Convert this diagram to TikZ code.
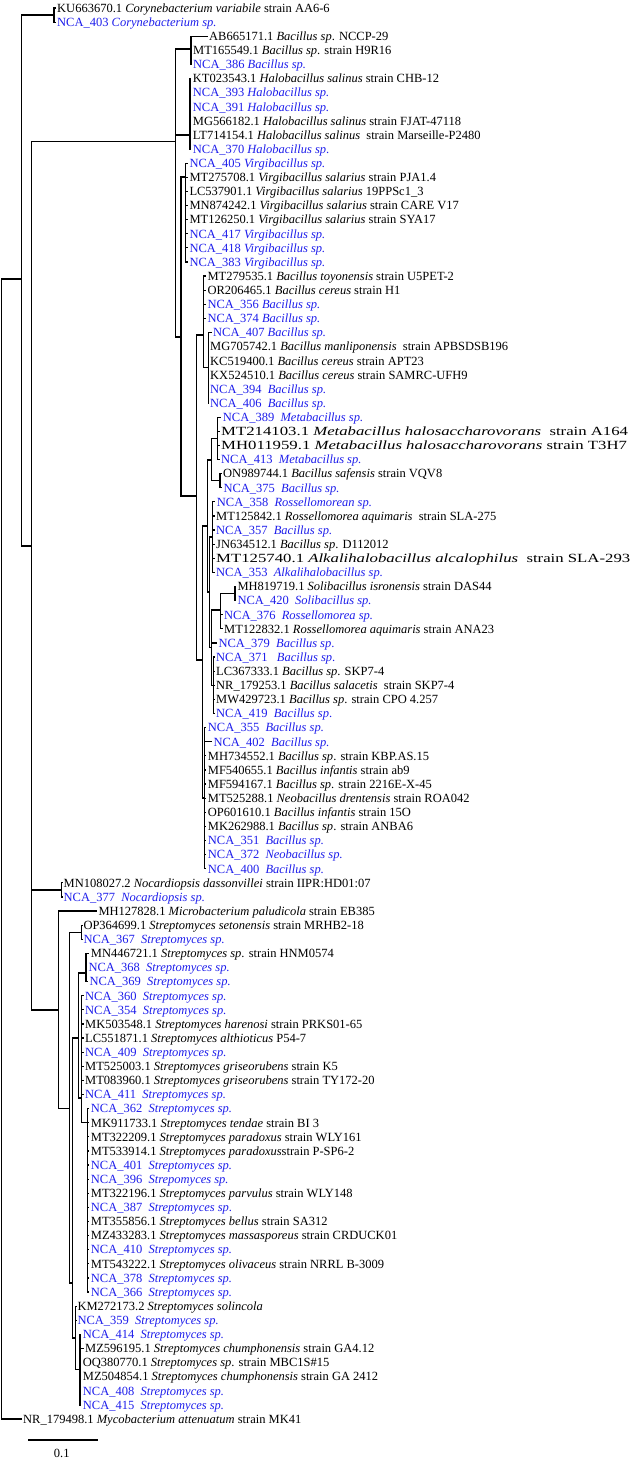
\documentclass[tikz,border=0pt]{standalone}
\usepackage{graphicx}
\usepackage{fontspec}
\setmainfont{Liberation Serif}
\definecolor{ncablue}{RGB}{30,30,235}
\tikzset{
  leaf/.style={anchor=west, inner xsep=1.5pt, inner ysep=0pt, text height=10pt, text depth=1.4pt, font=\fontsize{12.5}{14}\selectfont},
  nca/.style={leaf, text=ncablue},
  br/.style={line width=1.2pt},
  scalelbl/.style={anchor=center, inner sep=0pt, font=\fontsize{12.5}{14}\selectfont}
}
\newcommand\leafnode[5]{\node[#1] (#2) at ({#4-1.5},{8+(#3-1)*14.11}) {#5};}
\newcommand\linkto[2]{\draw[br] (#1) |- (#2.west);}
\newcommand\joinnodes[2]{\draw[br] (#1) |- (#2);}
\newcommand\widetext[1]{\scalebox{1.34}[1]{#1}}
\begin{document}
\begin{tikzpicture}[x=1pt,y=-1pt]
\path[use as bounding box] (0,0) rectangle (633,1459);
% ---------------- leaves ----------------
\leafnode{leaf}{l1}{1}{57}{KU663670.1 \textit{Corynebacterium variabile} strain AA6-6}
\leafnode{nca}{l2}{2}{57}{NCA\_403 \textit{Corynebacterium sp.}}
\leafnode{leaf}{l3}{3}{209}{AB665171.1 \textit{Bacillus sp}. NCCP-29}
\leafnode{leaf}{l4}{4}{193}{MT165549.1 \textit{Bacillus sp}. strain H9R16}
\leafnode{nca}{l5}{5}{193}{NCA\_386 \textit{Bacillus sp.}}
\leafnode{leaf}{l6}{6}{192.7}{KT023543.1 \textit{Halobacillus salinus} strain CHB-12}
\leafnode{nca}{l7}{7}{192.7}{NCA\_393 \textit{Halobacillus sp.}}
\leafnode{nca}{l8}{8}{192.7}{NCA\_391 \textit{Halobacillus sp.}}
\leafnode{leaf}{l9}{9}{192.7}{MG566182.1 \textit{Halobacillus salinus} strain FJAT-47118}
\leafnode{leaf}{l10}{10}{192.7}{LT714154.1 \textit{Halobacillus salinus}\ \ strain Marseille-P2480}
\leafnode{nca}{l11}{11}{192.7}{NCA\_370 \textit{Halobacillus sp}.}
\leafnode{nca}{l12}{12}{189.3}{NCA\_405 \textit{Virgibacillus sp.}}
\leafnode{leaf}{l13}{13}{189.3}{MT275708.1 \textit{Virgibacillus salarius} strain PJA1.4}
\leafnode{leaf}{l14}{14}{189.3}{LC537901.1 \textit{Virgibacillus salarius} 19PPSc1\_3}
\leafnode{leaf}{l15}{15}{189.3}{MN874242.1 \textit{Virgibacillus salarius} strain CARE V17}
\leafnode{leaf}{l16}{16}{189.3}{MT126250.1 \textit{Virgibacillus salarius} strain SYA17}
\leafnode{nca}{l17}{17}{189.3}{NCA\_417 \textit{Virgibacillus sp.}}
\leafnode{nca}{l18}{18}{189.3}{NCA\_418 \textit{Virgibacillus sp.}}
\leafnode{nca}{l19}{19}{189.3}{NCA\_383 \textit{Virgibacillus sp.}}
\leafnode{leaf}{l20}{20}{207.3}{MT279535.1 \textit{Bacillus toyonensis} strain U5PET-2}
\leafnode{leaf}{l21}{21}{207.3}{OR206465.1 \textit{Bacillus cereus} strain H1}
\leafnode{nca}{l22}{22}{207.3}{NCA\_356 \textit{Bacillus sp.}}
\leafnode{nca}{l23}{23}{207.3}{NCA\_374 \textit{Bacillus sp.}}
\leafnode{nca}{l24}{24}{213}{NCA\_407 \textit{Bacillus sp.}}
\leafnode{leaf}{l25}{25}{210}{MG705742.1 \textit{Bacillus manliponensis}\ \ strain APBSDSB196}
\leafnode{leaf}{l26}{26}{210}{KC519400.1 \textit{Bacillus cereus} strain APT23}
\leafnode{leaf}{l27}{27}{210}{KX524510.1 \textit{Bacillus cereus} strain SAMRC-UFH9}
\leafnode{nca}{l28}{28}{210}{NCA\_394\ \ \textit{Bacillus sp.}}
\leafnode{nca}{l29}{29}{210}{NCA\_406\ \ \textit{Bacillus sp.}}
\leafnode{nca}{l30}{30}{222.7}{NCA\_389\ \ \textit{Metabacillus sp.}}
\leafnode{leaf}{l31}{31}{221}{\widetext{MT214103.1 \textit{Metabacillus halosaccharovorans}\ \ strain A164}}
\leafnode{leaf}{l32}{32}{221}{\widetext{MH011959.1 \textit{Metabacillus halosaccharovorans} strain T3H7}}
\leafnode{nca}{l33}{33}{221}{NCA\_413\ \ \textit{Metabacillus sp.}}
\leafnode{leaf}{l34}{34}{223}{ON989744.1 \textit{Bacillus safensis} strain VQV8}
\leafnode{nca}{l35}{35}{223.3}{NCA\_375\ \ \textit{Bacillus sp.}}
\leafnode{nca}{l36}{36}{216.7}{NCA\_358\ \ \textit{Rossellomorean sp.}}
\leafnode{leaf}{l37}{37}{216}{MT125842.1 \textit{Rossellomorea aquimaris}\ \ strain SLA-275}
\leafnode{nca}{l38}{38}{216}{NCA\_357\ \ \textit{Bacillus sp.}}
\leafnode{leaf}{l39}{39}{216}{JN634512.1 \textit{Bacillus sp}. D112012}
\leafnode{leaf}{l40}{40}{216}{\widetext{MT125740.1 \textit{Alkalihalobacillus alcalophilus}\ \ strain SLA-293}}
\leafnode{nca}{l41}{41}{216}{NCA\_353\ \ \textit{Alkalihalobacillus sp.}}
\leafnode{leaf}{l42}{42}{237.3}{MH819719.1 \textit{Solibacillus isronensis} strain DAS44}
\leafnode{nca}{l43}{43}{237.3}{NCA\_420\ \ \textit{Solibacillus sp.}}
\leafnode{nca}{l44}{44}{224}{NCA\_376\ \ \textit{Rossellomorea sp.}}
\leafnode{leaf}{l45}{45}{224}{MT122832.1 \textit{Rossellomorea aquimaris} strain ANA23}
\leafnode{nca}{l46}{46}{218.3}{NCA\_379\ \ \textit{Bacillus sp}.}
\leafnode{nca}{l47}{47}{216}{NCA\_371\ \ \ \textit{Bacillus sp}.}
\leafnode{leaf}{l48}{48}{216}{LC367333.1 \textit{Bacillus sp}. SKP7-4}
\leafnode{leaf}{l49}{49}{216}{NR\_179253.1 \textit{Bacillus salacetis}\ \ strain SKP7-4}
\leafnode{leaf}{l50}{50}{216}{MW429723.1 \textit{Bacillus sp}. strain CPO 4.257}
\leafnode{nca}{l51}{51}{216}{NCA\_419\ \ \textit{Bacillus sp}.}
\leafnode{nca}{l52}{52}{207.7}{NCA\_355\ \ \textit{Bacillus sp.}}
\leafnode{nca}{l53}{53}{213.3}{NCA\_402\ \ \textit{Bacillus sp.}}
\leafnode{leaf}{l54}{54}{207.7}{MH734552.1 \textit{Bacillus sp}. strain KBP.AS.15}
\leafnode{leaf}{l55}{55}{207.7}{MF540655.1 \textit{Bacillus infantis} strain ab9}
\leafnode{leaf}{l56}{56}{207.7}{MF594167.1 \textit{Bacillus sp}. strain 2216E-X-45}
\leafnode{leaf}{l57}{57}{207.7}{MT525288.1 \textit{Neobacillus drentensis} strain ROA042}
\leafnode{leaf}{l58}{58}{207.7}{OP601610.1 \textit{Bacillus infantis} strain 15O}
\leafnode{leaf}{l59}{59}{207.7}{MK262988.1 \textit{Bacillus sp}. strain ANBA6}
\leafnode{nca}{l60}{60}{207.7}{NCA\_351\ \ \textit{Bacillus sp.}}
\leafnode{nca}{l61}{61}{207.7}{NCA\_372\ \ \textit{Neobacillus sp.}}
\leafnode{nca}{l62}{62}{207.7}{NCA\_400\ \ \textit{Bacillus sp.}}
\leafnode{leaf}{l63}{63}{63.5}{MN108027.2 \textit{Nocardiopsis dassonvillei} strain IIPR:HD01:07}
\leafnode{nca}{l64}{64}{63.5}{NCA\_377\ \ \textit{Nocardiopsis sp.}}
\leafnode{leaf}{l65}{65}{98.3}{MH127828.1 \textit{Microbacterium paludicola} strain EB385}
\leafnode{leaf}{l66}{66}{83.3}{OP364699.1 \textit{Streptomyces setonensis} strain MRHB2-18}
\leafnode{nca}{l67}{67}{83.3}{NCA\_367\ \ \textit{Streptomyces sp.}}
\leafnode{leaf}{l68}{68}{90.7}{MN446721.1 \textit{Streptomyces sp}. strain HNM0574}
\leafnode{nca}{l69}{69}{88.3}{NCA\_368\ \ \textit{Streptomyces sp.}}
\leafnode{nca}{l70}{70}{89.3}{NCA\_369\ \ \textit{Streptomyces sp.}}
\leafnode{nca}{l71}{71}{85}{NCA\_360\ \ \textit{Streptomyces sp.}}
\leafnode{nca}{l72}{72}{85}{NCA\_354\ \ \textit{Streptomyces sp.}}
\leafnode{leaf}{l73}{73}{85}{MK503548.1 \textit{Streptomyces harenosi} strain PRKS01-65}
\leafnode{leaf}{l74}{74}{85}{LC551871.1 \textit{Streptomyces althioticus} P54-7}
\leafnode{nca}{l75}{75}{85}{NCA\_409\ \ \textit{Streptomyces sp.}}
\leafnode{leaf}{l76}{76}{85}{MT525003.1 \textit{Streptomyces griseorubens} strain K5}
\leafnode{leaf}{l77}{77}{85}{MT083960.1 \textit{Streptomyces griseorubens} strain TY172-20}
\leafnode{nca}{l78}{78}{85}{NCA\_411\ \ \textit{Streptomyces sp.}}
\leafnode{nca}{l79}{79}{90.7}{NCA\_362\ \ \textit{Streptomyces sp.}}
\leafnode{leaf}{l80}{80}{90.7}{MK911733.1 \textit{Streptomyces tendae} strain BI 3}
\leafnode{leaf}{l81}{81}{90.7}{MT322209.1 \textit{Streptomyces paradoxus} strain WLY161}
\leafnode{leaf}{l82}{82}{90.7}{MT533914.1 \textit{Streptomyces paradoxus}strain P-SP6-2}
\leafnode{nca}{l83}{83}{90.7}{NCA\_401\ \ \textit{Streptomyces sp.}}
\leafnode{nca}{l84}{84}{90.7}{NCA\_396\ \ \textit{Strepomyces sp.}}
\leafnode{leaf}{l85}{85}{90.7}{MT322196.1 \textit{Streptomyces parvulus} strain WLY148}
\leafnode{nca}{l86}{86}{90.7}{NCA\_387\ \ \textit{Streptomyces sp}.}
\leafnode{leaf}{l87}{87}{90.7}{MT355856.1 \textit{Streptomyces bellus} strain SA312}
\leafnode{leaf}{l88}{88}{90.7}{MZ433283.1 \textit{Streptomyces massasporeus} strain CRDUCK01}
\leafnode{nca}{l89}{89}{90.7}{NCA\_410\ \ \textit{Streptomyces sp.}}
\leafnode{leaf}{l90}{90}{90.7}{MT543222.1 \textit{Streptomyces olivaceus} strain NRRL B-3009}
\leafnode{nca}{l91}{91}{90.7}{NCA\_378\ \ \textit{Streptomyces sp.}}
\leafnode{nca}{l92}{92}{90.7}{NCA\_366\ \ \textit{Streptomyces sp.}}
\leafnode{leaf}{l93}{93}{77.3}{KM272173.2 \textit{Streptomyces solincola}}
\leafnode{nca}{l94}{94}{77.3}{NCA\_359\ \ \textit{Streptomyces sp.}}
\leafnode{nca}{l95}{95}{82.7}{NCA\_414\ \ \textit{Streptomyces sp.}}
\leafnode{leaf}{l96}{96}{85}{MZ596195.1 \textit{Streptomyces chumphonensis} strain GA4.12}
\leafnode{leaf}{l97}{97}{82.7}{OQ380770.1 \textit{Streptomyces sp}. strain MBC1S\#15}
\leafnode{leaf}{l98}{98}{82.7}{MZ504854.1 \textit{Streptomyces chumphonensis} strain GA 2412}
\leafnode{nca}{l99}{99}{82.7}{NCA\_408\ \ \textit{Streptomyces sp.}}
\leafnode{nca}{l100}{100}{82.7}{NCA\_415\ \ \textit{Streptomyces sp.}}
\leafnode{leaf}{l101}{101}{23}{NR\_179498.1 \textit{Mycobacterium attenuatum} strain MK41}
% ---------------- internal nodes ----------------
\coordinate (root) at (1.7,849);
\coordinate (A) at (21.7,279);
\coordinate (cory) at (54,15.05);
\coordinate (B) at (31.7,546);
\coordinate (C) at (175.7,141.7);
\coordinate (C1) at (191,49);
\coordinate (C2) at (190,135);
\coordinate (D) at (181,337);
\coordinate (Vir) at (185.7,177);
\coordinate (E) at (196.7,496);
\coordinate (G) at (203.3,335);
\coordinate (H) at (208.3,367.8);
\coordinate (I) at (202.3,660);
\coordinate (K) at (207.3,526);
\coordinate (M) at (211.5,460);
\coordinate (Meta) at (217.3,438.4);
\coordinate (Saf) at (220,480.7);
\coordinate (N) at (209.5,592);
\coordinate (R) at (212.3,537);
\coordinate (V) at (211.5,647.5);
\coordinate (S) at (220.7,610);
\coordinate (Soli) at (235,593.6);
\coordinate (U) at (213.8,685.3);
\coordinate (J) at (204.3,798);
\coordinate (Noc) at (61.7,889.9);
\coordinate (MS) at (58.3,1010);
\coordinate (P) at (69.3,1108.6);
\coordinate (Pair) at (81.7,932.2);
\coordinate (Q) at (72.8,1283);
\coordinate (X) at (78.5,1038);
\coordinate (Y) at (86,973);
\coordinate (Z) at (81.7,1098);
\coordinate (Z2) at (87.3,1122.7);
\coordinate (Q2) at (75.5,1338);
\coordinate (W) at (80,1369.6);
% ---------------- branches ----------------
\joinnodes{root}{A} \linkto{root}{l101}
\joinnodes{A}{cory} \joinnodes{A}{B}
\linkto{cory}{l1} \linkto{cory}{l2}
\joinnodes{B}{C} \joinnodes{B}{Noc} \joinnodes{B}{MS}
\joinnodes{C}{C1} \joinnodes{C}{C2} \joinnodes{C}{D}
\foreach \i in {3,4,5} {\linkto{C1}{l\i}}
\foreach \i in {6,...,11} {\linkto{C2}{l\i}}
\joinnodes{D}{Vir} \joinnodes{D}{E}
\foreach \i in {12,...,19} {\linkto{Vir}{l\i}}
\joinnodes{E}{G} \joinnodes{E}{I}
\foreach \i in {20,...,23} {\linkto{G}{l\i}}
\joinnodes{G}{H}
\foreach \i in {24,...,29} {\linkto{H}{l\i}}
\joinnodes{I}{K} \joinnodes{I}{J}
\joinnodes{K}{M} \joinnodes{K}{N}
\joinnodes{M}{Meta} \joinnodes{M}{Saf}
\foreach \i in {30,...,33} {\linkto{Meta}{l\i}}
\foreach \i in {34,35} {\linkto{Saf}{l\i}}
\joinnodes{N}{R} \joinnodes{N}{V}
\foreach \i in {36,...,41} {\linkto{R}{l\i}}
\joinnodes{V}{S} \linkto{V}{l46} \joinnodes{V}{U}
\joinnodes{S}{Soli} \linkto{S}{l44} \linkto{S}{l45}
\linkto{Soli}{l42} \linkto{Soli}{l43}
\foreach \i in {47,...,51} {\linkto{U}{l\i}}
\foreach \i in {52,...,62} {\linkto{J}{l\i}}
\linkto{Noc}{l63} \linkto{Noc}{l64}
\linkto{MS}{l65} \joinnodes{MS}{P}
\joinnodes{P}{Pair} \joinnodes{P}{Q}
\linkto{Pair}{l66} \linkto{Pair}{l67}
\joinnodes{Q}{X} \joinnodes{Q}{Q2}
\joinnodes{X}{Y} \joinnodes{X}{Z}
\foreach \i in {68,69,70} {\linkto{Y}{l\i}}
\foreach \i in {71,...,78} {\linkto{Z}{l\i}}
\joinnodes{Z}{Z2}
\foreach \i in {79,...,92} {\linkto{Z2}{l\i}}
\linkto{Q2}{l93} \linkto{Q2}{l94} \joinnodes{Q2}{W}
\foreach \i in {95,...,100} {\linkto{W}{l\i}}
% ---------------- scale bar ----------------
\coordinate (sb1) at (28.3,1440);
\coordinate (sb2) at (97.7,1440);
\draw[br] (sb1) -- (sb2);
\node[scalelbl] (sblabel) at (61.7,1453) {0.1};
\end{tikzpicture}
\end{document}
